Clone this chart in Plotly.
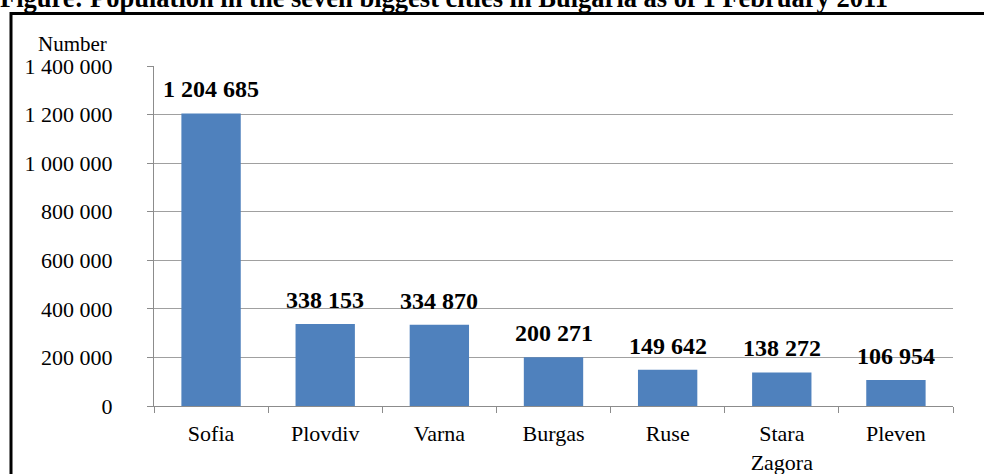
import plotly.graph_objects as go

cities = ["Sofia", "Plovdiv", "Varna", "Burgas", "Ruse", "Stara<br>Zagora", "Pleven"]
population = [1204685, 338153, 334870, 200271, 149642, 138272, 106954]
value_labels = ["1 204 685", "338 153", "334 870", "200 271", "149 642", "138 272", "106 954"]
y_tickvals = [0, 200000, 400000, 600000, 800000, 1000000, 1200000, 1400000]
y_ticktext = ["0", "200 000", "400 000", "600 000", "800 000", "1 000 000", "1 200 000", "1 400 000"]
title_text = "Figure: Population in the seven biggest cities in Bulgaria as of 1 February 2011"

FONT = "Liberation Serif"
W, H = 984, 474
L, R, T, B = 154, 31, 66, 68
PW, PH = W - L - R, H - T - B

def px(x):
    # image pixel x -> paper fraction
    return (x - L) / PW

def py(y):
    # image pixel y -> paper fraction
    return (H - B - y) / PH

fig = go.Figure()
fig.add_trace(go.Bar(
    x=cities, y=population,
    marker=dict(color="#4F81BD", line=dict(width=0)),
    hoverinfo="skip",
))

annotations = []
for c, v, t in zip(cities, population, value_labels):
    annotations.append(dict(
        x=c, y=v, xref="x", yref="y", text="<b>%s</b>" % t,
        showarrow=False, yanchor="bottom", yshift=9,
        font=dict(family=FONT, size=24, color="#000000"),
    ))
annotations.append(dict(
    x=px(72), y=py(44), xref="paper", yref="paper", text="Number",
    showarrow=False, xanchor="center", yanchor="middle",
    font=dict(family=FONT, size=21, color="#000000"),
))
annotations.append(dict(
    x=px(444), y=py(15), xref="paper", yref="paper", text="<b>%s</b>" % title_text,
    showarrow=False, xanchor="center", yanchor="bottom",
    font=dict(family=FONT, size=26.5, color="#000000"),
))

fig.update_layout(
    width=W, height=H,
    margin=dict(l=L, r=R, t=T, b=B, pad=0, autoexpand=False),
    paper_bgcolor="white", plot_bgcolor="white",
    bargap=0.48, showlegend=False,
    annotations=annotations,
    shapes=[dict(
        type="rect", xref="paper", yref="paper",
        x0=px(11), x1=px(1000), y0=py(13.5), y1=py(520),
        line=dict(color="#000000", width=3), fillcolor="rgba(0,0,0,0)", layer="below",
    )],
    xaxis=dict(
        showgrid=False, showline=True, linecolor="#8c8c8c", linewidth=1,
        ticks="outside", tickson="boundaries", ticklen=6, tickcolor="#8c8c8c",
        tickfont=dict(family=FONT, size=22, color="#000000"),
        ticklabelstandoff=8, fixedrange=True, automargin=False,
    ),
    yaxis=dict(
        range=[0, 1400000], tickvals=y_tickvals, ticktext=y_ticktext,
        showgrid=True, gridcolor="#a0a0a0", gridwidth=1,
        showline=True, linecolor="#8c8c8c", linewidth=1,
        ticks="outside", ticklen=6, tickcolor="#8c8c8c",
        tickfont=dict(family=FONT, size=22, color="#000000"),
        ticklabelstandoff=30, zeroline=False, fixedrange=True, automargin=False,
    ),
)

# remove the browser's default 8px page margin so the figure fills the window
fig.write_html(
    "out.html",
    config={"displayModeBar": False},
    post_script="document.body.style.margin='0px';",
)
